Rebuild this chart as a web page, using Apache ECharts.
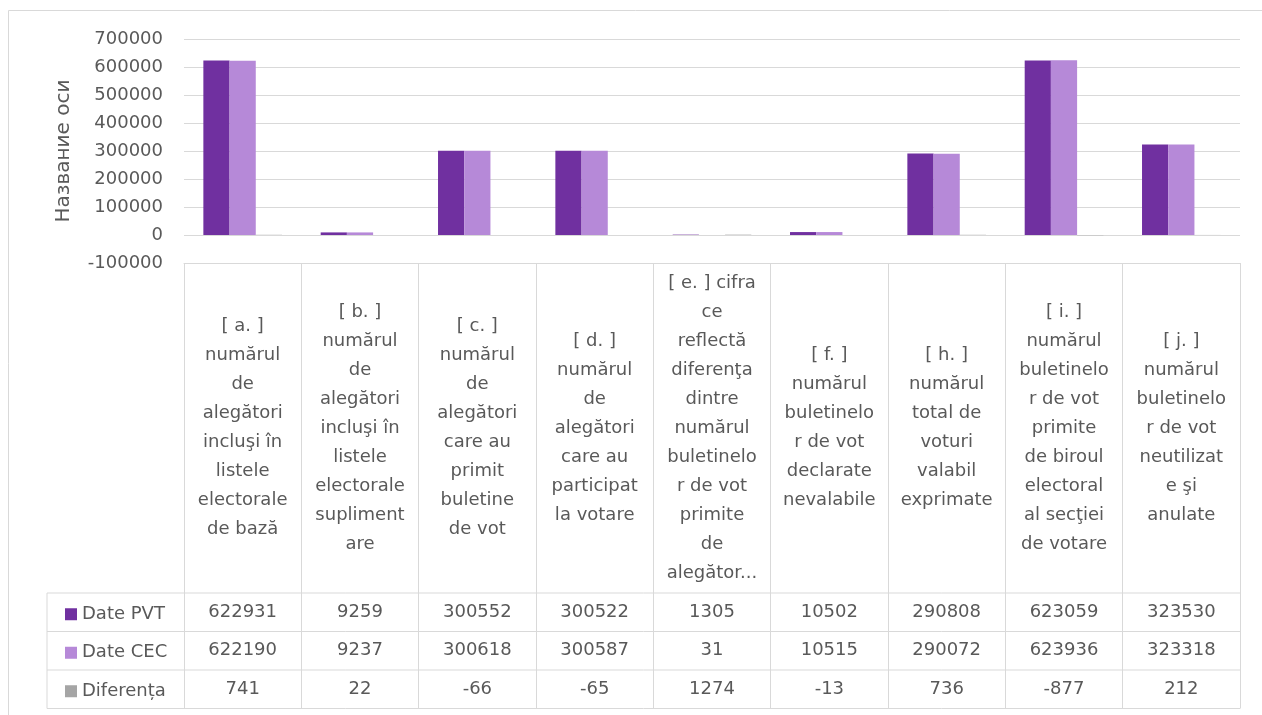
<!DOCTYPE html>
<html>
<head>
<meta charset="utf-8">
<title>Date PVT / Date CEC</title>
<script src="https://cdn.jsdelivr.net/npm/echarts@6/dist/echarts.min.js"></script>
<style>
  html, body { margin: 0; padding: 0; background: #fff; }
  #chart { width: 1262px; height: 715px; }
</style>
</head>
<body>
<div id="chart"></div>
<script>
// categorii (textul e rupt pe rânduri ca în tabelul din Excel)
var categories = [
  '[ a. ]\nnumărul\nde\nalegători\nincluşi în\nlistele\nelectorale\nde bază',
  '[ b. ]\nnumărul\nde\nalegători\nincluşi în\nlistele\nelectorale\nsupliment\nare',
  '[ c. ]\nnumărul\nde\nalegători\ncare au\nprimit\nbuletine\nde vot',
  '[ d. ]\nnumărul\nde\nalegători\ncare au\nparticipat\nla votare',
  '[ e. ] cifra\nce\nreflectă\ndiferenţa\ndintre\nnumărul\nbuletinelo\nr de vot\nprimite\nde\nalegător...',
  '[ f. ]\nnumărul\nbuletinelo\nr de vot\ndeclarate\nnevalabile',
  '[ h. ]\nnumărul\ntotal de\nvoturi\nvalabil\nexprimate',
  '[ i. ]\nnumărul\nbuletinelo\nr de vot\nprimite\nde biroul\nelectoral\nal secţiei\nde votare',
  '[ j. ]\nnumărul\nbuletinelo\nr de vot\nneutilizat\ne şi\nanulate'
]
var seriesNames = ['Date PVT', 'Date CEC', 'Diferența']
var datePVT = [622931, 9259, 300552, 300522, 1305, 10502, 290808, 623059, 323530]
var dateCEC = [622190, 9237, 300618, 300587, 31, 10515, 290072, 623936, 323318]
var diferenta = [741, 22, -66, -65, 1274, -13, 736, -877, 212]
var yMin = -100000
var yMax = 700000
var yStep = 100000
var yName = 'Название оси'

var colors = ['#7030A0', '#B689D8', '#A5A5A5']
var textColor = '#595959'
var lineColor = '#D9D9D9'
var font = 'DejaVu Sans'

// layout
var gridLeft = 184
var gridTop = 39
var gridWidth = 1056
var gridHeight = 224
var gridBottomY = gridTop + gridHeight // 263
var headerBottom = 593
var rowH = 38.5
var tableLeft = 47
var rows = [datePVT, dateCEC, diferenta]

var chart = echarts.init(document.getElementById('chart'))

var xAxes = [{
  type: 'category',
  data: categories,
  position: 'bottom',
  axisLine: { onZero: false, lineStyle: { color: lineColor } },
  axisTick: { show: true, length: headerBottom + rowH * 3 - gridBottomY, lineStyle: { color: lineColor } },
  axisLabel: {
    interval: 0,
    margin: (headerBottom - gridBottomY) / 2,
    verticalAlign: 'middle',
    align: 'center',
    lineHeight: 29,
    fontFamily: font,
    fontSize: 18,
    color: textColor
  }
}]
// rândurile cu valori din tabel, ca axe suplimentare
rows.forEach(function (vals, i) {
  xAxes.push({
    type: 'category',
    data: vals.map(String),
    position: 'bottom',
    offset: headerBottom + rowH * i + rowH / 2 - gridBottomY,
    axisLine: { show: false },
    axisTick: { show: false },
    axisLabel: {
      interval: 0,
      margin: 0,
      verticalAlign: 'middle',
      fontFamily: font,
      fontSize: 18,
      color: textColor
    }
  })
})

var legends = seriesNames.map(function (name, i) {
  return {
    data: [name],
    left: 60,
    top: headerBottom + rowH * i + rowH / 2 - 12,
    icon: 'rect',
    itemWidth: 12,
    itemHeight: 12,
    itemGap: 0,
    selectedMode: false,
    textStyle: { fontFamily: font, fontSize: 18, color: textColor }
  }
})

// liniile tabelului
var tableLines = []
for (var r = 0; r <= 3; r++) {
  var y = headerBottom + rowH * r
  tableLines.push({
    type: 'line',
    shape: { x1: tableLeft, y1: y, x2: gridLeft + gridWidth, y2: y },
    style: { stroke: lineColor, lineWidth: 1 }
  })
}
tableLines.push({
  type: 'line',
  shape: { x1: tableLeft, y1: headerBottom, x2: tableLeft, y2: headerBottom + rowH * 3 },
  style: { stroke: lineColor, lineWidth: 1 }
})
tableLines.push({
  type: 'rect',
  shape: { x: 8.5, y: 10.5, width: 1300, height: 720 },
  style: { fill: 'none', stroke: lineColor, lineWidth: 1 }
})

chart.setOption({
  animation: false,
  color: colors,
  legend: legends,
  grid: { left: gridLeft, top: gridTop, width: gridWidth, height: gridHeight },
  xAxis: xAxes,
  yAxis: {
    type: 'value',
    min: yMin,
    max: yMax,
    interval: yStep,
    name: yName,
    nameLocation: 'middle',
    nameGap: 110,
    nameTextStyle: { fontFamily: font, fontSize: 20, color: textColor },
    axisLine: { show: false },
    axisTick: { show: false },
    splitLine: { lineStyle: { color: lineColor } },
    axisLabel: {
      margin: 21,
      fontFamily: font,
      fontSize: 18,
      color: textColor,
      formatter: function (v) { return String(v) }
    }
  },
  graphic: tableLines,
  series: [
    { name: seriesNames[0], type: 'bar', data: datePVT, barGap: '0%', barCategoryGap: '33%' },
    { name: seriesNames[1], type: 'bar', data: dateCEC, barGap: '0%', barCategoryGap: '33%' },
    { name: seriesNames[2], type: 'bar', data: diferenta, barGap: '0%', barCategoryGap: '33%' }
  ]
})
</script>
</body>
</html>
